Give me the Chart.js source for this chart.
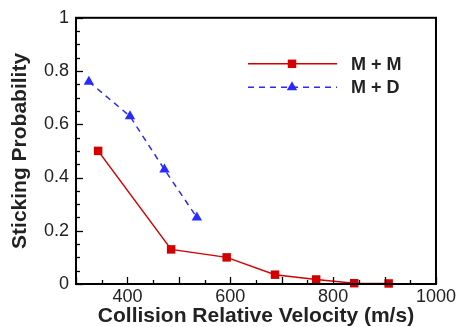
<!DOCTYPE html>
<html><head><meta charset="utf-8">
<script src="https://cdn.jsdelivr.net/npm/chart.js@4"></script>
<style>html,body{margin:0;padding:0;background:#fff}#wrap{width:458px;height:327px}</style>
</head><body><div id="wrap"><canvas id="c" width="458" height="327"></canvas></div>
<script>
const mmLabel = 'M + M';
const mmVelocity = [343, 485, 593, 687, 767, 841, 908];
const mmProb = [0.50, 0.13, 0.10, 0.035, 0.017, 0.003, 0.002];
const mdLabel = 'M + D';
const mdVelocity = [325, 405, 472, 535];
const mdProb = [0.76, 0.63, 0.43, 0.25];
const xTickValues = [400, 600, 800, 1000];
const yTickValues = [0, 0.2, 0.4, 0.6, 0.8, 1];
const xTitle = 'Collision Relative Velocity (m/s)';
const yTitle = 'Sticking Probability';

const RED = '#d40000', BLUE = '#2a2aff', TXT = '#222';
const FONT = "'Liberation Sans', Arial, Helvetica, sans-serif";

const frameTicks = {
  id: 'frameTicks',
  afterDraw(chart) {
    const {ctx, chartArea: a, scales: {x, y}} = chart;
    ctx.save();
    ctx.strokeStyle = '#000';
    ctx.lineWidth = 1.3;
    ctx.setLineDash([]);
    for (let k = 0; k <= 14; k++) {
      const v = 300 + k * 50;
      const px = Math.round(x.getPixelForValue(v)) + 0.5;
      const len = (k % 2 === 0) ? 7 : 4;
      ctx.beginPath(); ctx.moveTo(px, a.bottom); ctx.lineTo(px, a.bottom - len); ctx.stroke();
    }
    for (let i = 0; i <= 20; i++) {
      const v = i * 0.05;
      const py = Math.round(y.getPixelForValue(v)) + 0.5;
      const len = (i % 4 === 0) ? 7 : 4;
      ctx.beginPath(); ctx.moveTo(a.left, py); ctx.lineTo(a.left + len, py); ctx.stroke();
    }
    ctx.lineWidth = 2;
    ctx.strokeRect(a.left, a.top, a.right - a.left, a.bottom - a.top);
    ctx.restore();
  }
};

const insideLegend = {
  id: 'insideLegend',
  afterDraw(chart) {
    const {ctx, chartArea: a} = chart;
    ctx.save();
    chart.data.datasets.forEach((ds, i) => {
      const yy = a.top + 46 + i * 23.5;
      const x0 = a.left + 172, x1 = a.left + 261, xm = a.left + 216;
      ctx.strokeStyle = ds.borderColor;
      ctx.lineWidth = ds.borderWidth;
      ctx.setLineDash(ds.borderDash || []);
      ctx.beginPath(); ctx.moveTo(x0, yy); ctx.lineTo(x1, yy); ctx.stroke();
      ctx.setLineDash([]);
      ctx.fillStyle = ds.pointBackgroundColor;
      ctx.strokeStyle = ds.pointBackgroundColor;
      Chart.helpers.drawPoint(ctx, {pointStyle: ds.pointStyle, radius: ds.pointRadius, borderWidth: 0}, xm, yy);
      ctx.fillStyle = TXT;
      ctx.font = "bold 18px " + FONT;
      ctx.textBaseline = 'middle';
      ctx.fillText(ds.label, a.left + 275, yy + 1);
    });
    ctx.restore();
  }
};

new Chart(document.getElementById('c'), {
  type: 'line',
  data: {
    datasets: [
      {label: mmLabel, data: mmVelocity.map((v, i) => ({x: v, y: mmProb[i]})),
       borderColor: RED, backgroundColor: RED, borderWidth: 1.5,
       pointStyle: 'rect', pointRadius: 6, pointBackgroundColor: RED, pointBorderWidth: 0, clip: false},
      {label: mdLabel, data: mdVelocity.map((v, i) => ({x: v, y: mdProb[i]})),
       borderColor: BLUE, backgroundColor: BLUE, borderWidth: 1.5, borderDash: [6, 5],
       pointStyle: 'triangle', pointRadius: 6, pointBackgroundColor: BLUE, pointBorderWidth: 0, clip: false}
    ]
  },
  options: {
    responsive: false, animation: false, devicePixelRatio: 1,
    layout: {padding: {top: 17, right: 22, left: 0, bottom: 0}},
    plugins: {legend: {display: false}, tooltip: {enabled: false}},
    scales: {
      x: {type: 'linear', min: 300, max: 1000,
          afterBuildTicks: s => { s.ticks = xTickValues.map(v => ({value: v})); },
          afterFit: s => { s.height = 43; },
          grid: {display: false, drawTicks: false}, border: {display: false},
          ticks: {color: TXT, font: {family: FONT, size: 18}, padding: 2, maxRotation: 0, callback: v => String(v)},
          title: {display: true, text: xTitle, color: TXT, font: {family: FONT, size: 21, weight: 'bold', lineHeight: 1}, padding: {top: 0, bottom: 0}}},
      y: {min: 0, max: 1,
          afterBuildTicks: s => { s.ticks = yTickValues.map(v => ({value: v})); },
          afterFit: s => { s.width = 76; },
          grid: {display: false, drawTicks: false}, border: {display: false},
          ticks: {color: TXT, font: {family: FONT, size: 18}, padding: 7, callback: v => String(Math.round(v * 10) / 10)},
          title: {display: true, text: yTitle, color: TXT, font: {family: FONT, size: 21, weight: 'bold', lineHeight: 1}, padding: {top: 9.5, bottom: 0}}}
    }
  },
  plugins: [frameTicks, insideLegend]
});
</script></body></html>
